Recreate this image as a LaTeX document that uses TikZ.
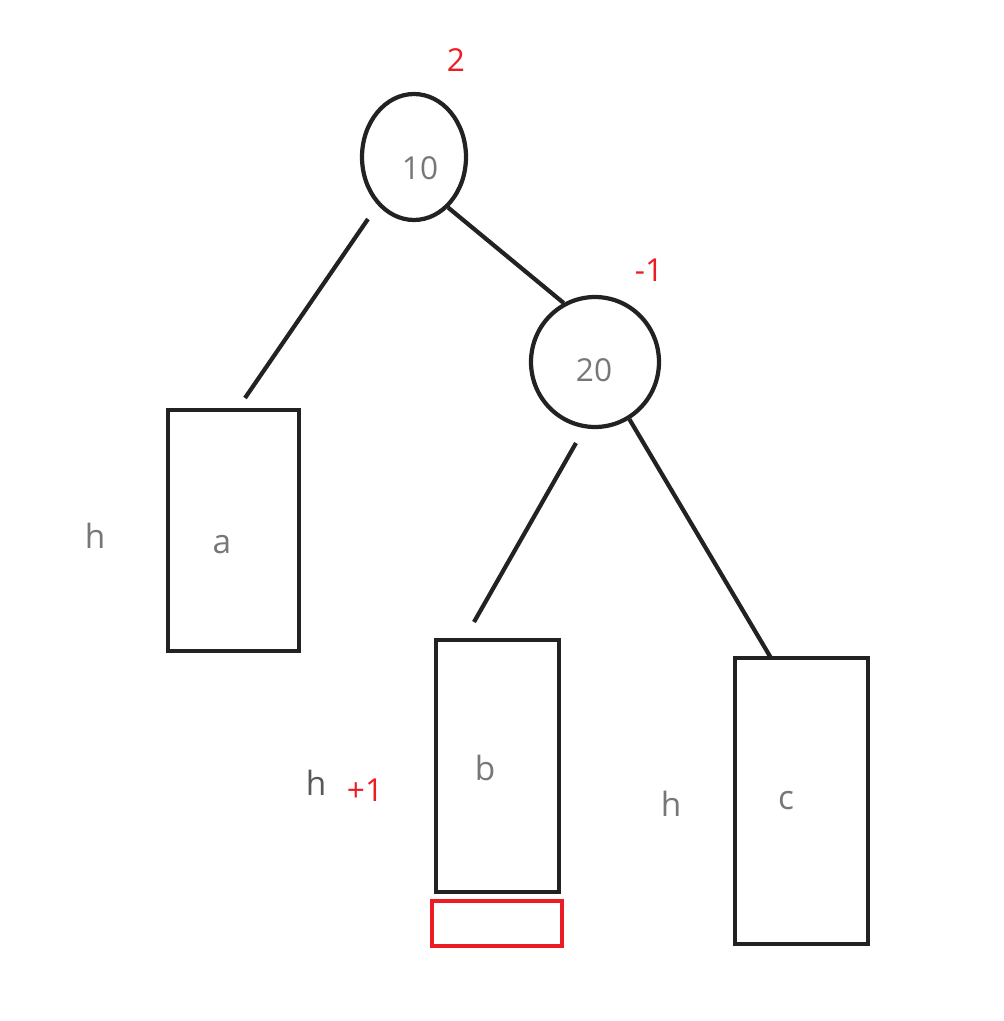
\documentclass[tikz,border=0pt]{standalone}
\usepackage{fontspec}
\setmainfont{Open Sans}
\usetikzlibrary{shapes.geometric}

\definecolor{balred}{HTML}{ED1C24}
\definecolor{ink}{HTML}{222222}
\definecolor{txtgray}{HTML}{777777}

\begin{document}
\begin{tikzpicture}[x=0.02cm,y=-0.02cm,
  vertex/.style={ellipse,draw=ink,line width=2.4pt,inner sep=0pt},
  subtree/.style={rectangle,draw=ink,line width=2.4pt,inner sep=0pt},
  num/.style={text=txtgray,font=\fontsize{18}{20}\selectfont},
  lbl/.style={text=txtgray,font=\fontsize{19}{21}\selectfont},
  bal/.style={text=balred,font=\fontsize{18}{20}\selectfont},
  edge/.style={draw=ink,line width=2.4pt}]
  \useasboundingbox (0,0) rectangle (1004,1021);

  \node[vertex,minimum width=2.08cm,minimum height=2.52cm] (n10) at (414,157) {};
  \node[vertex,minimum width=2.56cm,minimum height=2.6cm] (n20) at (595,362) {};
  \node[num] (k10) at (420,168) {10};
  \node[num] (k20) at (594,370) {20};

  \node[subtree,minimum width=2.62cm,minimum height=4.82cm] (boxa) at (233.5,530.5) {};
  \node[subtree,minimum width=2.46cm,minimum height=5.04cm] (boxb) at (497.5,766) {};
  \node[subtree,minimum width=2.66cm,minimum height=5.72cm] (boxc) at (801.5,801) {};
  \node[rectangle,draw=balred,line width=2.4pt,minimum width=2.6cm,minimum height=0.9cm] (newleaf) at (497,923.5) {};
  \node[lbl] (ta) at (222,545) {a};
  \node[lbl] (tb) at (485,768) {b};
  \node[lbl] (tc) at (786,801) {c};

  % balance factors and heights
  \node[bal] (bf10) at (456,60) {2};
  \node[bal] (bf20) at (649,270) {-1};
  \node[lbl] (ha) at (95,536) {h};
  \node[lbl,text=black!65] (hb) at (316,783) {h};
  \node[bal] (plus) at (365,790) {+1};
  \node[lbl] (hc) at (671,804) {h};

  % branches
  \coordinate (a1) at (368,219);
  \coordinate (a2) at (245,398);
  \coordinate (b1) at (576,443);
  \coordinate (b2) at (474,622);
  \coordinate (c2) at (771,658);
  \draw[edge] (a1) -- (a2);
  \draw[edge] (n10.-56) -- (n20.118);
  \draw[edge] (b1) -- (b2);
  \draw[edge] (n20.-59) -- (c2);
\end{tikzpicture}
\end{document}
